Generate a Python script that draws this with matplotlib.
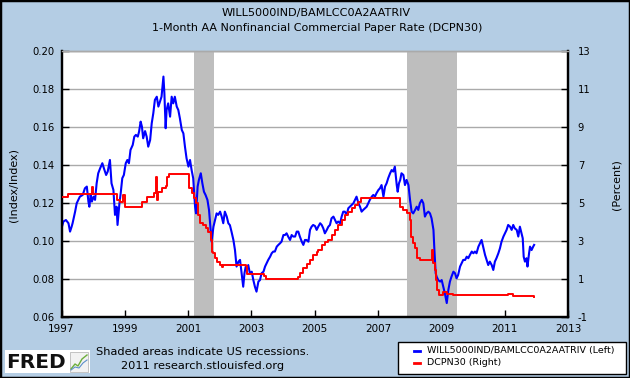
import matplotlib
matplotlib.use("Agg")
import matplotlib.pyplot as plt
from matplotlib.patches import Rectangle
from matplotlib.lines import Line2D

# ---------------- data (decimal years) ----------------
blue_t = [1997.00, 1997.06, 1997.14, 1997.22, 1997.27, 1997.32, 1997.35, 1997.43, 1997.48, 1997.53,
          1997.58, 1997.67, 1997.74, 1997.80, 1997.85, 1997.88, 1997.92, 1997.96, 1998.01, 1998.06,
          1998.11, 1998.16, 1998.22, 1998.29, 1998.34, 1998.41, 1998.46, 1998.53, 1998.58, 1998.64,
          1998.69, 1998.74, 1998.77, 1998.83, 1998.87, 1998.92, 1998.97, 1999.03, 1999.08, 1999.13,
          1999.18, 1999.25, 1999.30, 1999.35, 1999.41, 1999.45, 1999.50, 1999.54, 1999.58, 1999.64,
          1999.69, 1999.74, 1999.80, 1999.85, 1999.90, 1999.95, 2000.01, 2000.06, 2000.11, 2000.16,
          2000.22, 2000.25, 2000.29, 2000.32, 2000.37, 2000.43, 2000.48, 2000.53, 2000.58, 2000.64,
          2000.69, 2000.74, 2000.80, 2000.85, 2000.90, 2000.95, 2001.01, 2001.06, 2001.11, 2001.16,
          2001.22, 2001.25, 2001.30, 2001.34, 2001.40, 2001.45, 2001.50, 2001.55, 2001.61, 2001.66,
          2001.71, 2001.74, 2001.80, 2001.85, 2001.90, 2001.95, 2002.01, 2002.06, 2002.11, 2002.16,
          2002.22, 2002.27, 2002.32, 2002.37, 2002.43, 2002.48, 2002.53, 2002.59, 2002.64, 2002.69,
          2002.74, 2002.78, 2002.82, 2002.85, 2002.90, 2002.95, 2003.01, 2003.06, 2003.11, 2003.16,
          2003.22, 2003.27, 2003.32, 2003.38, 2003.43, 2003.48, 2003.53, 2003.59, 2003.64, 2003.69,
          2003.74, 2003.80, 2003.85, 2003.90, 2003.95, 2004.01, 2004.06, 2004.11, 2004.16, 2004.22,
          2004.27, 2004.32, 2004.38, 2004.43, 2004.48, 2004.53, 2004.59, 2004.64, 2004.69, 2004.74,
          2004.80, 2004.85, 2004.90, 2004.95, 2005.01, 2005.06, 2005.11, 2005.17, 2005.22, 2005.27,
          2005.32, 2005.38, 2005.43, 2005.48, 2005.53, 2005.59, 2005.64, 2005.69, 2005.74, 2005.80,
          2005.85, 2005.90, 2005.95, 2006.01, 2006.06, 2006.11, 2006.17, 2006.22, 2006.27, 2006.32,
          2006.38, 2006.43, 2006.48, 2006.53, 2006.59, 2006.64, 2006.69, 2006.74, 2006.80, 2006.85,
          2006.90, 2006.95, 2007.01, 2007.06, 2007.11, 2007.17, 2007.22, 2007.27, 2007.32, 2007.38,
          2007.43, 2007.48, 2007.53, 2007.59, 2007.62, 2007.66, 2007.70, 2007.74, 2007.80, 2007.85,
          2007.90, 2007.96, 2008.01, 2008.06, 2008.11, 2008.17, 2008.22, 2008.27, 2008.32, 2008.38,
          2008.43, 2008.48, 2008.53, 2008.59, 2008.64, 2008.69, 2008.75, 2008.78, 2008.82, 2008.85,
          2008.90, 2008.96, 2009.01, 2009.06, 2009.11, 2009.17, 2009.22, 2009.27, 2009.32, 2009.38,
          2009.43, 2009.48, 2009.53, 2009.59, 2009.64, 2009.69, 2009.75, 2009.80, 2009.85, 2009.90,
          2009.96, 2010.01, 2010.06, 2010.11, 2010.17, 2010.22, 2010.27, 2010.32, 2010.38, 2010.43,
          2010.48, 2010.53, 2010.59, 2010.64, 2010.69, 2010.74, 2010.80, 2010.85, 2010.90, 2010.96,
          2011.01, 2011.06, 2011.11, 2011.17, 2011.22, 2011.27, 2011.32, 2011.38, 2011.43, 2011.48,
          2011.53, 2011.57, 2011.60, 2011.64, 2011.69, 2011.72, 2011.77, 2011.80, 2011.85, 2011.90,
          2011.93]
blue_v = [0.1068, 0.1104, 0.1112, 0.1095, 0.1051, 0.1077, 0.1095, 0.1156, 0.1200, 0.1218,
          0.1235, 0.1244, 0.1279, 0.1288, 0.1209, 0.1182, 0.1244, 0.1209, 0.1235, 0.1218,
          0.1305, 0.1358, 0.1384, 0.1411, 0.1384, 0.1349, 0.1367, 0.1428, 0.1305, 0.1270,
          0.1139, 0.1182, 0.1086, 0.1200, 0.1253, 0.1332, 0.1349, 0.1411, 0.1428, 0.1411,
          0.1481, 0.1507, 0.1551, 0.1560, 0.1551, 0.1577, 0.1630, 0.1604, 0.1542, 0.1580,
          0.1551, 0.1498, 0.1533, 0.1621, 0.1674, 0.1744, 0.1761, 0.1709, 0.1735, 0.1761,
          0.1867, 0.1779, 0.1595, 0.1691, 0.1726, 0.1656, 0.1761, 0.1726, 0.1761, 0.1709,
          0.1691, 0.1647, 0.1586, 0.1568, 0.1498, 0.1437, 0.1393, 0.1428, 0.1375, 0.1332,
          0.1182, 0.1147, 0.1288, 0.1323, 0.1358, 0.1305, 0.1261, 0.1244, 0.1218, 0.1165,
          0.1060, 0.0998, 0.1077, 0.1112, 0.1147, 0.1139, 0.1156, 0.1130, 0.1095, 0.1156,
          0.1130, 0.1095, 0.1085, 0.1051, 0.1007, 0.0954, 0.0867, 0.0893, 0.0902, 0.0832,
          0.0761, 0.0832, 0.0867, 0.0858, 0.0875, 0.0832, 0.0840, 0.0796, 0.0761, 0.0735,
          0.0788, 0.0796, 0.0832, 0.0840, 0.0867, 0.0884, 0.0902, 0.0919, 0.0937, 0.0946,
          0.0946, 0.0972, 0.0981, 0.0989, 0.0998, 0.1033, 0.1033, 0.1042, 0.1025, 0.1007,
          0.1033, 0.1025, 0.1025, 0.1051, 0.1051, 0.1025, 0.0998, 0.0981, 0.1007, 0.1007,
          0.0998, 0.1060, 0.1077, 0.1086, 0.1080, 0.1060, 0.1077, 0.1095, 0.1086, 0.1068,
          0.1042, 0.1060, 0.1077, 0.1086, 0.1121, 0.1130, 0.1112, 0.1095, 0.1104, 0.1095,
          0.1130, 0.1156, 0.1156, 0.1139, 0.1174, 0.1182, 0.1191, 0.1200, 0.1218, 0.1235,
          0.1200, 0.1182, 0.1156, 0.1165, 0.1174, 0.1182, 0.1200, 0.1218, 0.1235, 0.1244,
          0.1235, 0.1253, 0.1270, 0.1279, 0.1296, 0.1235, 0.1288, 0.1305, 0.1332, 0.1358,
          0.1375, 0.1367, 0.1393, 0.1296, 0.1261, 0.1305, 0.1323, 0.1358, 0.1349, 0.1296,
          0.1323, 0.1296, 0.1218, 0.1156, 0.1147, 0.1165, 0.1182, 0.1165, 0.1200, 0.1218,
          0.1200, 0.1130, 0.1147, 0.1156, 0.1147, 0.1121, 0.1060, 0.0954, 0.0832, 0.0814,
          0.0796, 0.0788, 0.0796, 0.0761, 0.0726, 0.0675, 0.0744, 0.0788, 0.0814, 0.0840,
          0.0832, 0.0805, 0.0823, 0.0867, 0.0884, 0.0902, 0.0902, 0.0919, 0.0911, 0.0928,
          0.0946, 0.0937, 0.0946, 0.0937, 0.0972, 0.0989, 0.1007, 0.0972, 0.0928, 0.0902,
          0.0875, 0.0893, 0.0875, 0.0849, 0.0893, 0.0911, 0.0937, 0.0963, 0.0998, 0.1025,
          0.1042, 0.1060, 0.1086, 0.1077, 0.1060, 0.1086, 0.1068, 0.1060, 0.1025, 0.1077,
          0.1042, 0.1016, 0.0919, 0.0893, 0.0911, 0.0867, 0.0937, 0.0972, 0.0954, 0.0972,
          0.0981]

red_t = [1997.00, 1997.16, 1997.22, 1997.85, 1997.95, 1998.01, 1998.69, 1998.76, 1998.85, 1998.95,
         1999.01, 1999.43, 1999.53, 1999.69, 1999.85, 1999.93, 1999.98, 2000.02, 2000.06, 2000.16,
         2000.29, 2000.34, 2000.40, 2001.01, 2001.04, 2001.11, 2001.18, 2001.24, 2001.30, 2001.37,
         2001.48, 2001.55, 2001.64, 2001.71, 2001.74, 2001.80, 2001.85, 2001.90, 2002.01, 2002.06,
         2002.11, 2002.83, 2002.87, 2003.32, 2003.40, 2003.46, 2004.43, 2004.48, 2004.53, 2004.64,
         2004.74, 2004.85, 2004.95, 2005.06, 2005.11, 2005.22, 2005.32, 2005.43, 2005.53, 2005.64,
         2005.74, 2005.85, 2005.95, 2006.06, 2006.17, 2006.27, 2006.38, 2006.46, 2007.64, 2007.69,
         2007.80, 2007.90, 2008.01, 2008.04, 2008.11, 2008.17, 2008.22, 2008.32, 2008.69, 2008.71,
         2008.75, 2008.80, 2008.83, 2008.87, 2008.93, 2009.06, 2009.17, 2009.38, 2010.38, 2011.11,
         2011.27, 2011.93]
red_v = [5.32, 5.32, 5.49, 5.49, 5.88, 5.49, 5.49, 5.18, 5.09, 5.44,
         4.82, 4.82, 5.09, 5.32, 5.35, 5.56, 6.40, 5.18, 5.61, 5.79,
         5.91, 6.40, 6.53, 6.53, 5.79, 5.53, 5.26, 5.00, 4.39, 3.95,
         3.86, 3.68, 3.51, 3.07, 2.46, 2.37, 2.11, 1.93, 1.75, 1.63,
         1.75, 1.72, 1.28, 1.28, 1.18, 1.02, 1.02, 1.14, 1.32, 1.58,
         1.81, 2.02, 2.28, 2.46, 2.54, 2.81, 2.98, 3.07, 3.33, 3.60,
         3.86, 4.12, 4.39, 4.56, 4.74, 4.91, 5.09, 5.30, 5.26, 4.82,
         4.65, 4.47, 4.12, 3.25, 2.89, 2.63, 2.11, 2.02, 2.02, 2.54,
         1.84, 1.49, 0.96, 0.44, 0.18, 0.32, 0.23, 0.18, 0.18, 0.21,
         0.12, 0.09]

recessions = [(2001.17, 2001.83), (2007.92, 2009.49)]

left_ticks = [0.06, 0.08, 0.10, 0.12, 0.14, 0.16, 0.18, 0.20]
right_ticks = [-1, 1, 3, 5, 7, 9, 11, 13]
x_ticks = [1997, 1999, 2001, 2003, 2005, 2007, 2009, 2011, 2013]

title1 = "WILL5000IND/BAMLCC0A2AATRIV"
title2 = "1-Month AA Nonfinancial Commercial Paper Rate (DCPN30)"
label_left = "(Index/Index)"
label_right = "(Percent)"
blue_name = "WILL5000IND/BAMLCC0A2AATRIV (Left)"
red_name = "DCPN30 (Right)"

# ---------------- figure ----------------
W, H = 630, 378
BG = "#B4CDE4"
plt.rcParams["font.family"] = ["DejaVu Sans"]
fig = plt.figure(figsize=(6.3, 3.78), dpi=100, facecolor=BG)

def fx(px):
    return px / W

def fy(py):
    return 1 - py / H

ax = fig.add_axes([fx(61.5), fy(317.3), fx(568) - fx(61.5), fy(51.3) - fy(317.3)])
ax.set_facecolor("white")
ax.set_axisbelow(True)
ax.set_xlim(1997, 2013)
ax.set_ylim(0.06, 0.20)
ax.set_yticks(left_ticks)
ax.set_yticklabels([f"{v:.2f}" for v in left_ticks])
ax.set_xticks(x_ticks)
ax.set_xticklabels([str(v) for v in x_ticks])
ax.yaxis.grid(True, color="#AAAAAA", lw=1.0)
for s, e in recessions:
    ax.axvspan(s, e, color="#BEBEBE", lw=0, zorder=1)
ax.plot(blue_t, blue_v, color="#0000FF", lw=1.5, zorder=3)

ax2 = ax.twinx()
ax2.set_ylim(-1, 13)
ax2.set_yticks(right_ticks)
ax2.set_yticklabels([str(v) for v in right_ticks])
ax2.plot(red_t, red_v, color="#FF0000", lw=1.4, zorder=3, drawstyle="steps-post")

for a in (ax, ax2):
    for sp in ("left", "right", "bottom"):
        a.spines[sp].set_color("black")
        a.spines[sp].set_linewidth(1.6)
    a.spines["top"].set_color("#AAAAAA")
    a.spines["top"].set_linewidth(1.0)

ax.tick_params(axis="y", direction="in", length=5, width=1, labelsize=7.2, pad=5, colors="black", right=False)
ax.tick_params(axis="x", direction="in", length=5, width=1, labelsize=7.5, pad=4.5, colors="black", top=False)
ax2.tick_params(axis="y", direction="in", length=5, width=1, labelsize=7.2, pad=7, colors="black")

fig.text(fx(316), fy(13), title1, ha="center", va="center", fontsize=8.1)
fig.text(fx(317), fy(28), title2, ha="center", va="center", fontsize=8.0)
fig.text(fx(14), fy(185), label_left, rotation=90, ha="center", va="center", fontsize=8.0)
fig.text(fx(617), fy(185), label_right, rotation=90, ha="center", va="center", fontsize=8.0)

fig.text(fx(203), fy(352), "Shaded areas indicate US recessions.", ha="center", va="center", fontsize=8.2)
fig.text(fx(203), fy(366), "2011 research.stlouisfed.org", ha="center", va="center", fontsize=8.2)

# legend box
fig.patches.append(Rectangle((fx(397.5), fy(374)), fx(626) - fx(397.5), fy(342) - fy(374),
                             transform=fig.transFigure, facecolor="white", edgecolor="black", lw=1.0))
for yy, col, name in ((350.5, "#0000FF", blue_name), (362.5, "#FF0000", red_name)):
    fig.lines.append(Line2D([fx(413.5), fx(419.5)], [fy(yy), fy(yy)], transform=fig.transFigure,
                            color=col, lw=2.0))
    fig.text(fx(427), fy(yy), name, ha="left", va="center", fontsize=6.8)

# FRED logo
fig.patches.append(Rectangle((fx(5), fy(373)), fx(90) - fx(5), fy(350) - fy(373),
                             transform=fig.transFigure, facecolor="white", edgecolor="none"))
fig.text(fx(6), fy(362), "FRED", ha="left", va="center", fontsize=14.5, fontweight="bold", color="#111111")
fig.patches.append(Rectangle((fx(70), fy(372)), fx(88) - fx(70), fy(352) - fy(372),
                             transform=fig.transFigure, facecolor="#F2F2F2", edgecolor="#BBBBBB", lw=0.6))
fig.lines.append(Line2D([fx(71), fx(75), fx(78), fx(82), fx(87)], [fy(369), fy(364), fy(366), fy(359), fy(355)],
                        transform=fig.transFigure, color="#6DAE3C", lw=1.0))
fig.lines.append(Line2D([fx(71), fx(75), fx(79), fx(83), fx(87)], [fy(370), fy(367), fy(368), fy(363), fy(360)],
                        transform=fig.transFigure, color="#5B8FC9", lw=0.8))

# outer border
fig.patches.append(Rectangle((0, 0), 1, 1, transform=fig.transFigure, fill=False, edgecolor="black", lw=2.5))

fig.savefig("out.png", dpi=100, facecolor=BG)
